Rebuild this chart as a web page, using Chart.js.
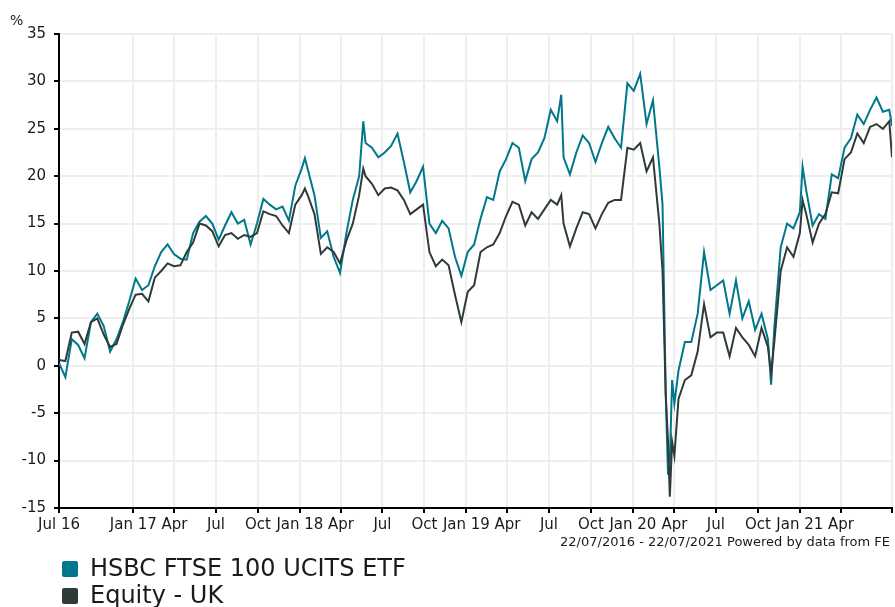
<!DOCTYPE html>
<html>
<head>
<meta charset="utf-8">
<script src="https://cdn.jsdelivr.net/npm/chart.js@4.4.0/dist/chart.umd.min.js"></script>
<style>
  body { margin: 0; background: #fff; font-family: 'DejaVu Sans', Verdana, sans-serif; color: #1a1a1a; }
  #wrap { position: relative; width: 895px; height: 607px; overflow: hidden; }
  #unit { position: absolute; left: 10px; top: 12px; font-size: 14px; }
  #source { position: absolute; right: 5px; top: 534px; font-size: 13px; }
  #legend { position: absolute; left: 62px; top: 555px; font-size: 24px; line-height: 27px; }
  #legend .sw { display: inline-block; width: 16px; height: 16px; border-radius: 2px; margin-right: 12px; vertical-align: -1px; }
</style>
</head>
<body>
<div id="wrap">
  <canvas id="perf" width="895" height="607"></canvas>
  <div id="unit">%</div>
  <div id="source">22/07/2016 - 22/07/2021 Powered by data from FE</div>
  <div id="legend"></div>
</div>
<script>
// days since 22/07/2016 (sampled roughly every two weeks, plus a few turning points)
const dayOffsets = [
  0, 14, 28, 42, 56, 70, 84, 98, 112, 126, 140, 154, 168, 182, 196, 210, 224, 238, 252, 266,
  280, 294, 308, 322, 336, 350, 364, 378, 392, 406, 420, 434, 448, 462, 476, 490, 504, 518, 532, 539,
  546, 560, 574, 588, 602, 616, 630, 644, 658, 667, 672, 686, 700, 714, 728, 742, 756, 770, 784, 798,
  812, 826, 840, 854, 868, 882, 896, 910, 924, 938, 952, 966, 980, 994, 1008, 1022, 1036, 1050, 1064, 1078,
  1092, 1101, 1106, 1120, 1134, 1148, 1162, 1176, 1190, 1204, 1218, 1232, 1246, 1260, 1274, 1288, 1302, 1316, 1323, 1330,
  1335, 1339, 1344, 1349, 1358, 1372, 1386, 1400, 1414, 1428, 1442, 1456, 1470, 1484, 1498, 1512, 1526, 1540, 1554, 1561,
  1568, 1582, 1596, 1610, 1624, 1630, 1638, 1652, 1666, 1680, 1694, 1708, 1722, 1736, 1750, 1764, 1778, 1792, 1806, 1820,
  1826
];

const hsbcEtf = [
  0.3, -1.2, 2.8, 2.2, 0.8, 4.6, 5.5, 4.2, 1.5, 2.8, 4.6, 6.8, 9.2, 8.0, 8.5, 10.5, 12.0, 12.8, 11.8, 11.3,
  11.2, 14.0, 15.2, 15.8, 15.0, 13.3, 14.8, 16.2, 15.0, 15.4, 12.8, 15.0, 17.6, 17.0, 16.5, 16.8, 15.3, 19.0, 20.8, 21.9,
  20.6, 18.0, 13.5, 14.2, 11.5, 9.8, 14.0, 17.5, 20.0, 25.8, 23.5, 23.0, 22.0, 22.5, 23.2, 24.5, 21.5, 18.3, 19.5, 21.0,
  15.0, 14.0, 15.3, 14.5, 11.5, 9.5, 12.0, 12.8, 15.5, 17.8, 17.5, 20.5, 21.8, 23.5, 23.0, 19.5, 21.8, 22.5, 24.0, 27.0,
  25.8, 28.6, 22.0, 20.2, 22.5, 24.3, 23.5, 21.5, 23.5, 25.2, 24.0, 23.0, 29.8, 29.0, 30.8, 25.5, 28.0, 21.0, 17.0, -3.0,
  -11.5, -10.0, -1.5, -4.0, -0.5, 2.5, 2.5, 5.5, 12.0, 8.0, 8.5, 9.0, 5.5, 9.0, 5.0, 6.8, 3.8, 5.5, 2.8, -2.0,
  4.0, 12.5, 15.0, 14.5, 16.2, 21.0, 18.5, 14.8, 16.0, 15.5, 20.2, 19.8, 23.0, 24.0, 26.5, 25.5, 27.0, 28.3, 26.8, 27.0,
  25.3
];

const equityUk = [
  0.6, 0.5, 3.5, 3.6, 2.3, 4.6, 5.0, 3.3, 2.0, 2.3, 4.3, 6.0, 7.5, 7.6, 6.8, 9.3, 10.0, 10.8, 10.5, 10.6,
  12.0, 13.0, 15.0, 14.8, 14.2, 12.6, 13.8, 14.0, 13.4, 13.8, 13.6, 14.0, 16.3, 16.0, 15.8, 14.8, 14.0, 17.0, 18.0, 18.7,
  17.9, 16.0, 11.8, 12.5, 12.0, 10.8, 13.2, 15.0, 18.0, 20.8, 20.0, 19.2, 18.0, 18.7, 18.8, 18.5, 17.5, 16.0, 16.5, 17.0,
  12.0, 10.5, 11.2, 10.6, 7.5, 4.6, 7.8, 8.5, 12.0, 12.5, 12.8, 14.0, 15.8, 17.3, 17.0, 14.8, 16.2, 15.5, 16.5, 17.5,
  17.0, 18.0, 15.0, 12.6, 14.5, 16.2, 16.0, 14.5, 16.0, 17.2, 17.5, 17.5, 23.0, 22.8, 23.5, 20.5, 22.0, 15.0, 10.0, -3.0,
  -8.0, -13.8, -8.0, -9.5, -3.5, -1.5, -1.0, 1.5, 6.5, 3.0, 3.5, 3.5, 1.0, 4.0, 3.0, 2.2, 1.0, 4.0, 2.0, -0.8,
  2.5, 10.0, 12.5, 11.5, 14.0, 17.5, 16.0, 13.0, 15.0, 16.0, 18.3, 18.2, 21.8, 22.5, 24.5, 23.5, 25.2, 25.5, 25.0, 25.8,
  22.0
];

// quarter starts, as days since 22/07/2016; last entry is the end of the axis
const tickDays = [0, 163, 253, 344, 436, 528, 618, 709, 801, 893, 983, 1074, 1166, 1258, 1349, 1440, 1532, 1624, 1714, 1826];
const tickLabels = ['Jul 16', 'Jan 17', 'Apr', 'Jul', 'Oct', 'Jan 18', 'Apr', 'Jul', 'Oct', 'Jan 19', 'Apr', 'Jul', 'Oct', 'Jan 20', 'Apr', 'Jul', 'Oct', 'Jan 21', 'Apr', ''];

const seriesNames = ['HSBC FTSE 100 UCITS ETF', 'Equity - UK'];
const seriesColors = ['#00788b', '#2e3b39'];

const tickFont = { family: "'DejaVu Sans', Verdana, sans-serif", size: 15 };
const gridColor = '#eeeeee';

new Chart(document.getElementById('perf'), {
  type: 'line',
  data: {
    datasets: [
      {
        label: seriesNames[0],
        data: dayOffsets.map((d, i) => ({ x: d, y: hsbcEtf[i] })),
        borderColor: seriesColors[0],
        backgroundColor: seriesColors[0],
        borderWidth: 2,
        pointRadius: 0,
        tension: 0,
        order: 1,
      },
      {
        label: seriesNames[1],
        data: dayOffsets.map((d, i) => ({ x: d, y: equityUk[i] })),
        borderColor: seriesColors[1],
        backgroundColor: seriesColors[1],
        borderWidth: 2,
        pointRadius: 0,
        tension: 0,
        order: 0,
      },
    ],
  },
  options: {
    responsive: false,
    animation: false,
    layout: { padding: { top: 34, left: 0, right: 0, bottom: 0 } },
    plugins: {
      legend: { display: false },
      tooltip: { enabled: false },
    },
    scales: {
      x: {
        type: 'linear',
        min: 0,
        max: 1826,
        border: { display: true, color: '#000', width: 2 },
        grid: { color: gridColor, lineWidth: 2, tickColor: '#000', tickLength: 5, tickWidth: 2 },
        afterBuildTicks: (axis) => {
          axis.ticks = tickDays.map((v) => ({ value: v }));
        },
        ticks: {
          autoSkip: false,
          maxRotation: 0,
          padding: 3,
          color: '#1a1a1a',
          font: tickFont,
          callback: (value, index) => tickLabels[index],
        },
        afterFit: (axis) => {
          axis.height = 99;
        },
      },
      y: {
        min: -15,
        max: 35,
        border: { display: true, color: '#000', width: 2 },
        grid: { color: gridColor, lineWidth: 2, tickColor: '#000', tickLength: 5, tickWidth: 2 },
        ticks: { stepSize: 5, padding: 8, color: '#1a1a1a', font: tickFont },
        afterFit: (axis) => {
          axis.width = 59;
        },
      },
    },
  },
});

// legend below the chart, one series per line
const legend = document.getElementById('legend');
seriesNames.forEach((name, i) => {
  const row = document.createElement('div');
  row.innerHTML = '<span class="sw" style="background:' + seriesColors[i] + '"></span>' + name;
  legend.appendChild(row);
});
</script>
</body>
</html>
